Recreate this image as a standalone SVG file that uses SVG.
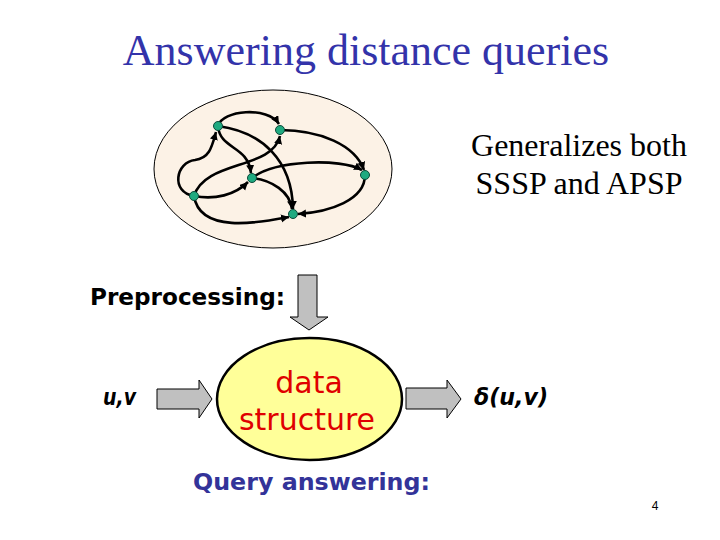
<svg xmlns="http://www.w3.org/2000/svg" width="720" height="540" viewBox="0 0 720 540">
<defs>
<style>
.title{font-family:"Liberation Serif","Times New Roman",serif;font-size:44px;fill:#3333aa}
.serif{font-family:"Liberation Serif","Times New Roman",serif;font-size:32px;fill:#000}
.comic{font-family:"DejaVu Sans","Liberation Sans",sans-serif}
.edge{fill:none;stroke:#000;stroke-width:2.6;marker-end:url(#ah)}
.node{fill:#1faa80;stroke:#0b4a3a;stroke-width:1}
.blk{fill:#c0c0c0;stroke:#000;stroke-width:1}
</style>
<marker id="ah" markerUnits="userSpaceOnUse" markerWidth="10" markerHeight="10" refX="8" refY="4" orient="auto">
<path d="M0,0 L8,4 L0,8 Z" fill="#000"/>
</marker>
</defs>
<rect width="720" height="540" fill="#fff"/>
<text class="title" x="366" y="65" text-anchor="middle">Answering distance queries</text>

<g id="graph-cloud">
<ellipse cx="273" cy="169" rx="119" ry="79" fill="#fcf2e6" stroke="#000" stroke-width="1"/>
</g>

<g id="edges">
<path class="edge" d="M218,126 C222,110 268,106 279,124"/>
<path class="edge" d="M218,126 C220,150 248,145 251,173"/>
<path class="edge" d="M218,126 C262,132 292,160 293,209"/>
<path class="edge" d="M194,196 C170,192 176,162 195,160 C210,158 212,146 216,132"/>
<path class="edge" d="M194,196 C205,160 272,170 280,136"/>
<path class="edge" d="M194,196 C215,200 235,195 248,182"/>
<path class="edge" d="M194,196 C200,235 262,222 289,217"/>
<path class="edge" d="M252,178 C275,160 340,158 362,170"/>
<path class="edge" d="M252,178 C272,180 290,192 292,209"/>
<path class="edge" d="M280,130 C320,130 355,145 364,170"/>
<path class="edge" d="M365,175 C365,200 330,212 298,214"/>
</g>

<g id="nodes">
<circle id="n-a" class="node" cx="218" cy="126" r="4.5"/>
<circle id="n-b" class="node" cx="280" cy="130" r="4.5"/>
<circle id="n-c" class="node" cx="252" cy="178" r="4.5"/>
<circle id="n-d" class="node" cx="365" cy="175" r="4.5"/>
<circle id="n-e" class="node" cx="194" cy="196" r="4.5"/>
<circle id="n-f" class="node" cx="293" cy="214" r="4.5"/>
</g>

<g id="generalizes">
<text class="serif" x="579" y="156" text-anchor="middle">Generalizes both</text>
<text class="serif" x="579" y="194" text-anchor="middle">SSSP and APSP</text>
</g>

<g id="preprocessing">
<text class="comic" x="90" y="305" font-size="23" font-weight="bold" textLength="195" lengthAdjust="spacingAndGlyphs">Preprocessing:</text>
</g>

<g id="arrow-down">
<path class="blk" d="M298,275 L317,275 L317,317 L328,317 L309,330 L290,317 L298,317 Z"/>
</g>

<g id="uv">
<text class="comic" x="103" y="405" font-size="23" font-weight="bold" font-style="italic" textLength="33" lengthAdjust="spacingAndGlyphs">u,v</text>
</g>

<g id="arrow-in">
<path class="blk" d="M157,389 L199,389 L199,380 L212,399 L199,418 L199,409 L157,409 Z"/>
</g>

<g id="data-structure">
<ellipse cx="309.5" cy="399" rx="92.5" ry="61" fill="#ffff99" stroke="#000" stroke-width="2.5"/>
<text class="comic" x="309" y="393" font-size="30" fill="#e00000" text-anchor="middle">data</text>
<text class="comic" x="307" y="430" font-size="30" fill="#e00000" text-anchor="middle">structure</text>
</g>

<g id="arrow-out">
<path class="blk" d="M406,388 L447,388 L447,380 L461,399 L447,418 L447,409 L406,409 Z"/>
</g>

<g id="result">
<text class="comic" x="474" y="405" font-size="23" font-weight="bold" font-style="italic" textLength="74" lengthAdjust="spacingAndGlyphs">δ(u,v)</text>
</g>

<g id="query">
<text class="comic" x="193" y="490" font-size="23" font-weight="bold" fill="#333399" textLength="237" lengthAdjust="spacingAndGlyphs">Query answering:</text>
</g>

<text x="655" y="510" font-family="Liberation Sans, Arial, sans-serif" font-size="12" text-anchor="middle" fill="#000">4</text>
</svg>
